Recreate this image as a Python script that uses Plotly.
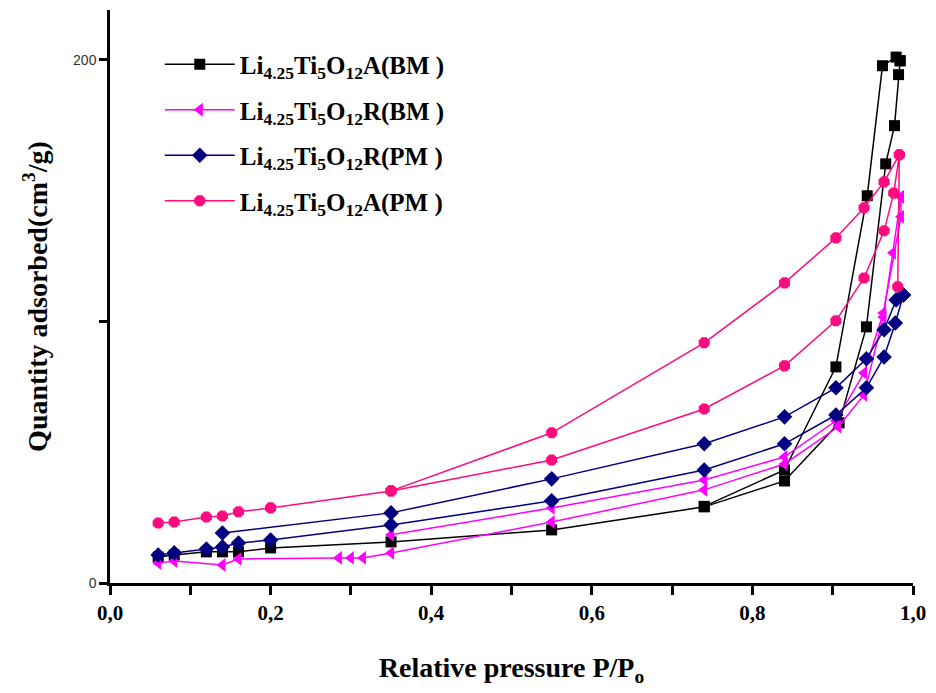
import plotly.graph_objects as go

# ---- data ----
abm_ads_x = [0.06, 0.08, 0.12, 0.14, 0.16, 0.20, 0.35, 0.55, 0.74, 0.84, 0.908, 0.942, 0.966, 0.977, 0.982, 0.984]
abm_ads_y = [9.9, 10.7, 11.9, 11.9, 11.9, 13.4, 15.7, 20.3, 29.1, 39.0, 61.2, 97.9, 160.2, 174.8, 194.3, 199.6]
abm_des_x = [0.984, 0.979, 0.962, 0.943, 0.904, 0.84, 0.74]
abm_des_y = [199.6, 201.0, 197.7, 148.0, 82.6, 43.2, 29.3]

rbm_ads_x = [0.06, 0.08, 0.14, 0.16, 0.285, 0.30, 0.315, 0.35, 0.55, 0.74, 0.84, 0.907, 0.939, 0.963, 0.975, 0.985]
rbm_ads_y = [7.6, 8.4, 6.9, 9.2, 9.6, 9.6, 9.6, 11.5, 23.3, 35.6, 45.5, 59.7, 71.9, 101.7, 126.2, 147.6]
rbm_des_x = [0.985, 0.985, 0.963, 0.939, 0.904, 0.84, 0.74, 0.55, 0.35]
rbm_des_y = [147.6, 140.0, 103.2, 80.3, 62.0, 48.2, 39.4, 28.7, 18.4]

rpm_ads_x = [0.06, 0.08, 0.12, 0.14, 0.16, 0.20, 0.35, 0.55, 0.74, 0.84, 0.904, 0.942, 0.964, 0.978, 0.988]
rpm_ads_y = [10.7, 11.5, 13.0, 13.8, 15.3, 16.4, 22.2, 31.4, 43.2, 53.2, 64.2, 74.6, 86.4, 99.4, 110.1]
rpm_des_x = [0.988, 0.979, 0.964, 0.942, 0.904, 0.84, 0.74, 0.55, 0.35, 0.14]
rpm_des_y = [110.1, 108.2, 96.8, 85.7, 74.6, 63.5, 53.2, 39.8, 26.8, 19.1]

apm_ads_x = [0.06, 0.08, 0.12, 0.14, 0.16, 0.20, 0.35, 0.55, 0.74, 0.84, 0.904, 0.939, 0.964, 0.976, 0.983, 0.981]
apm_ads_y = [22.9, 23.3, 25.2, 25.6, 27.2, 28.7, 35.2, 47.0, 66.5, 83.0, 100.2, 116.6, 134.6, 149.0, 163.7, 113.2]
apm_des_x = [0.983, 0.964, 0.939, 0.904, 0.84, 0.74, 0.55, 0.35]
apm_des_y = [163.7, 153.3, 143.4, 131.9, 114.7, 91.8, 57.4, 35.2]

series_names = [
    "Li<sub>4.25</sub>Ti<sub>5</sub>O<sub>12</sub>A(BM )",
    "Li<sub>4.25</sub>Ti<sub>5</sub>O<sub>12</sub>R(BM )",
    "Li<sub>4.25</sub>Ti<sub>5</sub>O<sub>12</sub>R(PM )",
    "Li<sub>4.25</sub>Ti<sub>5</sub>O<sub>12</sub>A(PM )",
]

x_tickvals = [0.0, 0.1, 0.2, 0.3, 0.4, 0.5, 0.6, 0.7, 0.8, 0.9, 1.0]
x_ticktext = ["0,0", "", "0,2", "", "0,4", "", "0,6", "", "0,8", "", "1,0"]
y_tickvals = [0, 100, 200]
y_ticktext = ["0", "", "200"]

# ---- styles ----
styles = [
    dict(color="#000000", symbol="square", size=11),
    dict(color="#FF00FF", symbol="triangle-left", size=12),
    dict(color="#000080", symbol="diamond", size=12),
    dict(color="#FF0A7F", symbol="octagon", size=12),
]
data = [
    (abm_ads_x, abm_ads_y, abm_des_x, abm_des_y),
    (rbm_ads_x, rbm_ads_y, rbm_des_x, rbm_des_y),
    (rpm_ads_x, rpm_ads_y, rpm_des_x, rpm_des_y),
    (apm_ads_x, apm_ads_y, apm_des_x, apm_des_y),
]

fig = go.Figure()
for i, (name, st, (ax, ay, dx, dy)) in enumerate(zip(series_names, styles, data)):
    grp = f"g{i}"
    fig.add_trace(go.Scatter(
        x=ax, y=ay, mode="lines+markers", name=name, legendgroup=grp,
        line=dict(color=st["color"], width=1.5),
        marker=dict(color=st["color"], symbol=st["symbol"], size=st["size"]),
    ))
    fig.add_trace(go.Scatter(
        x=dx, y=dy, mode="lines+markers", name=name, legendgroup=grp, showlegend=False,
        line=dict(color=st["color"], width=1.5),
        marker=dict(color=st["color"], symbol=st["symbol"], size=st["size"]),
    ))

serif = "Liberation Serif"
fig.update_layout(
    width=936, height=693,
    margin=dict(l=110, r=18, t=10, b=110),
    paper_bgcolor="white", plot_bgcolor="white",
    showlegend=True,
    legend=dict(
        x=0.062, y=0.945, xanchor="left", yanchor="top",
        font=dict(family=serif, size=25, color="black", weight="bold"),
        bgcolor="rgba(0,0,0,0)", itemwidth=70, tracegroupgap=10,
    ),
    xaxis=dict(
        range=[0, 1], tickvals=x_tickvals, ticktext=x_ticktext,
        showgrid=False, zeroline=False, showline=True, linecolor="black", linewidth=2.5,
        ticks="outside", ticklen=9, tickwidth=2.5, tickcolor="black",
        tickfont=dict(family=serif, size=21, color="black", weight="bold"),
        title=dict(text="Relative pressure P/P<sub>o</sub>", standoff=34,
                   font=dict(family=serif, size=28, color="black", weight="bold")),
    ),
    yaxis=dict(
        range=[0, 219], tickvals=y_tickvals, ticktext=y_ticktext,
        showgrid=False, zeroline=False, showline=True, linecolor="black", linewidth=2.5,
        ticks="outside", ticklen=8, tickwidth=2.5, tickcolor="black",
        tickfont=dict(family="Liberation Sans", size=14, color="#333333"),
        title=dict(text="Quantity adsorbed(cm<sup>3</sup>/g)", standoff=18,
                   font=dict(family=serif, size=28, color="black", weight="bold")),
    ),
)

fig.write_html("out.html")
